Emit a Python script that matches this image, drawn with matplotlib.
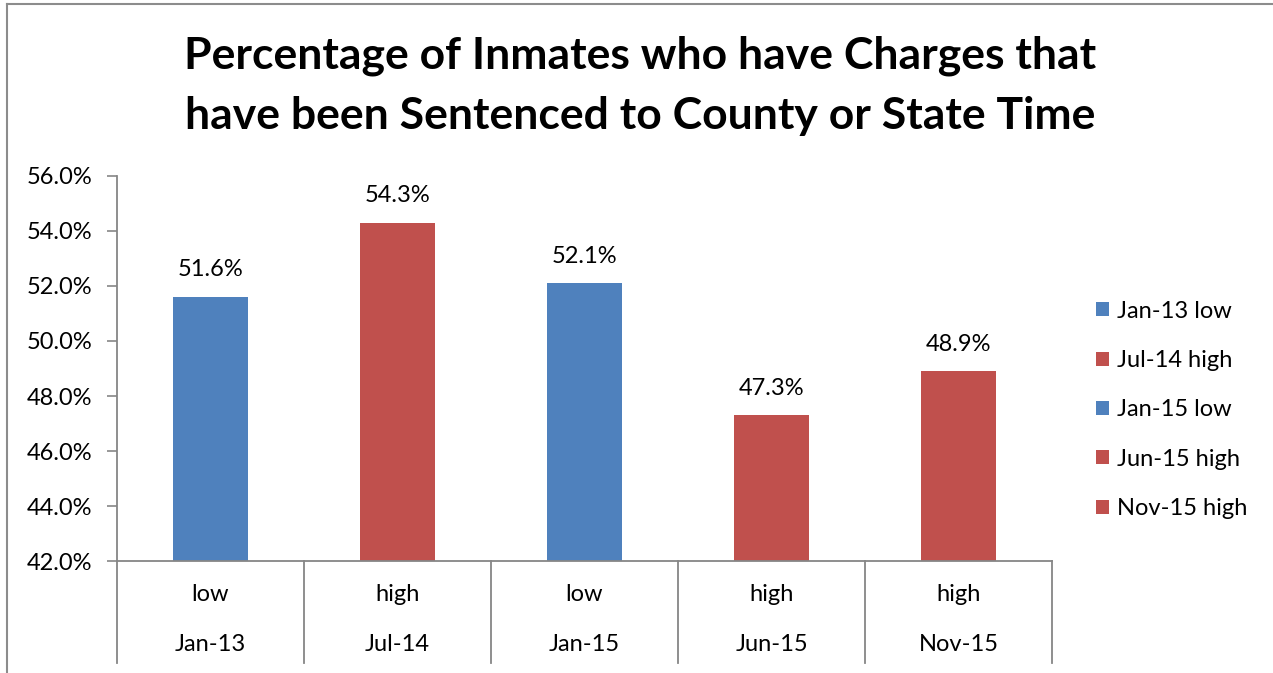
import matplotlib.pyplot as plt
from matplotlib.lines import Line2D
from matplotlib.patches import Patch
import matplotlib.transforms as mtransforms

plt.rcParams["font.family"] = ["Lato", "DejaVu Sans"]

months = ["Jan-13", "Jul-14", "Jan-15", "Jun-15", "Nov-15"]
levels = ["low", "high", "low", "high", "high"]
values = [51.6, 54.3, 52.1, 47.3, 48.9]
yticks = [42, 44, 46, 48, 50, 52, 54, 56]

BLUE = "#4F81BD"
RED = "#C0504D"
GRID = "#868686"
colors = [BLUE if lv == "low" else RED for lv in levels]

fig = plt.figure(figsize=(12.73, 6.73), dpi=100)
ax = fig.add_axes([0.0919, 0.1664, 0.7345, 0.5721])

x = list(range(len(months)))
bars = ax.bar(x, [v - 42 for v in values], bottom=42, width=0.4, color=colors, zorder=2)
for xi, v in zip(x, values):
    ax.annotate(f"{v:.1f}%", (xi, v), xytext=(0, 19.5), textcoords="offset points",
                ha="center", va="center", fontsize=17)

ax.set_xlim(-0.5, len(months) - 0.5)
ax.set_ylim(42, 56)
ax.set_yticks(yticks)
ax.set_yticklabels([f"{t:.1f}%" for t in yticks], fontsize=17)
ax.set_xticks([])
ax.tick_params(axis="y", direction="out", length=7, color=GRID, width=1.2, pad=11)

for s in ["top", "right"]:
    ax.spines[s].set_visible(False)
for s in ["left", "bottom"]:
    ax.spines[s].set_color(GRID)
    ax.spines[s].set_linewidth(1.3)

# multi-level category axis
trans = mtransforms.blended_transform_factory(ax.transData, ax.transAxes)
for b in [i - 0.5 for i in range(len(months) + 1)]:
    ax.add_line(Line2D([b, b], [0, -0.265], transform=trans, color=GRID,
                       lw=1.3, clip_on=False))
for xi, m, lv in zip(x, months, levels):
    ax.text(xi, -0.088, lv, transform=trans, ha="center", va="center", fontsize=17)
    ax.text(xi, -0.218, m, transform=trans, ha="center", va="center", fontsize=17)

handles = [Patch(facecolor=c, edgecolor="none") for c in colors]
labels = [f"{m} {lv}" for m, lv in zip(months, levels)]
fig.legend(handles, labels, loc="center left", bbox_to_anchor=(0.844, 0.391),
           frameon=False, fontsize=17, handlelength=0.55, handleheight=0.55,
           handletextpad=0.35, labelspacing=1.2)

fig.text(0.503, 0.872, "Percentage of Inmates who have Charges that\nhave been Sentenced to County or State Time",
         ha="center", va="center", fontsize=32, fontweight="bold", linespacing=1.6)

# chart border (cropped)
fig.add_artist(Line2D([7 / 1273, 7 / 1273], [0, 1 - 4 / 673], color="#8c8c8c", lw=1.5))
fig.add_artist(Line2D([7 / 1273, 1], [1 - 4 / 673, 1 - 4 / 673], color="#8c8c8c", lw=1.5))

fig.savefig("out.png", dpi=100)
